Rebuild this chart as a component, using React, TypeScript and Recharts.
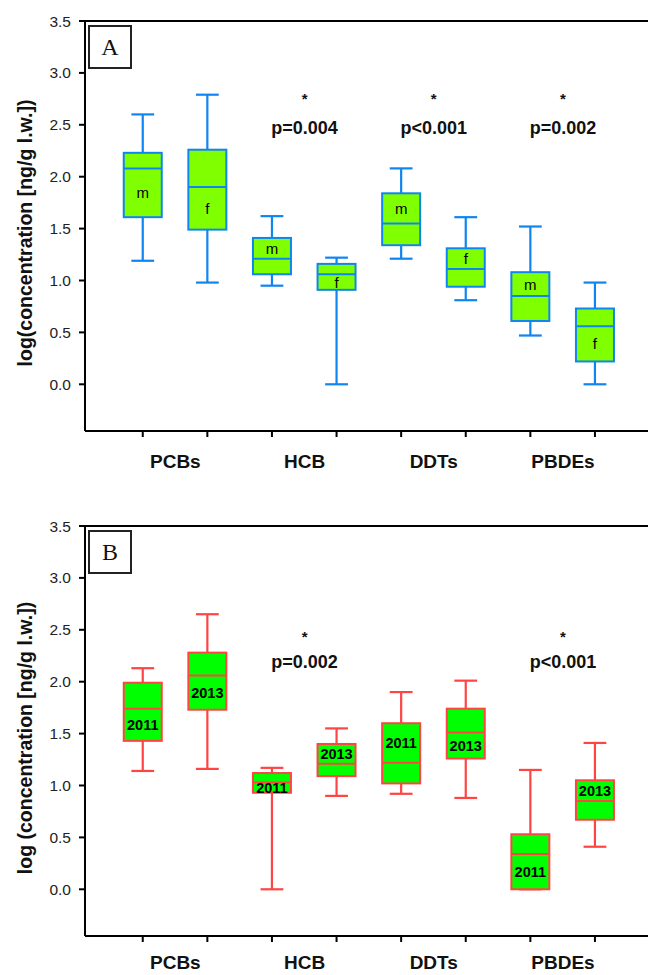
import { Bar, ComposedChart, ReferenceDot, ReferenceLine, XAxis, YAxis } from "recharts";

// shared categories and axis
const groups = ["PCBs", "HCB", "DDTs", "PBDEs"];
const yTicks = [0, 0.5, 1, 1.5, 2, 2.5, 3, 3.5];
const Y_MIN = -0.45;
const Y_MAX = 3.5;

// panel A: males (m) vs females (f)
const maleMin = [1.19, 0.95, 1.21, 0.47];
const maleQ1 = [1.61, 1.06, 1.34, 0.61];
const maleMed = [2.08, 1.21, 1.55, 0.85];
const maleQ3 = [2.23, 1.41, 1.84, 1.08];
const maleMax = [2.6, 1.62, 2.08, 1.52];

const femaleMin = [0.98, 0.0, 0.81, 0.0];
const femaleQ1 = [1.49, 0.91, 0.94, 0.22];
const femaleMed = [1.9, 1.06, 1.11, 0.56];
const femaleQ3 = [2.26, 1.16, 1.31, 0.73];
const femaleMax = [2.79, 1.22, 1.61, 0.98];

const pValuesA = ["", "p=0.004", "p<0.001", "p=0.002"];

// panel B: 2011 vs 2013
const y2011Min = [1.14, 0.0, 0.92, 0.0];
const y2011Q1 = [1.43, 0.93, 1.02, 0.0];
const y2011Med = [1.74, 1.03, 1.22, 0.34];
const y2011Q3 = [1.99, 1.12, 1.6, 0.53];
const y2011Max = [2.13, 1.17, 1.9, 1.15];

const y2013Min = [1.16, 0.9, 0.88, 0.41];
const y2013Q1 = [1.73, 1.09, 1.26, 0.67];
const y2013Med = [2.06, 1.21, 1.51, 0.85];
const y2013Q3 = [2.28, 1.4, 1.74, 1.05];
const y2013Max = [2.65, 1.55, 2.01, 1.41];

const pValuesB = ["", "p=0.002", "", "p<0.001"];

type Stats = [number, number, number, number, number];

type Row = {
  group: string;
  first: [number, number];
  second: [number, number];
  firstStats: Stats;
  secondStats: Stats;
  note: string;
};

function buildRows(a: number[][], b: number[][], notes: string[]): Row[] {
  return groups.map((group, i) => ({
    group,
    first: [a[0][i], a[4][i]],
    second: [b[0][i], b[4][i]],
    firstStats: [a[0][i], a[1][i], a[2][i], a[3][i], a[4][i]],
    secondStats: [b[0][i], b[1][i], b[2][i], b[3][i], b[4][i]],
    note: notes[i]
  }));
}

const rowsA = buildRows(
  [maleMin, maleQ1, maleMed, maleQ3, maleMax],
  [femaleMin, femaleQ1, femaleMed, femaleQ3, femaleMax],
  pValuesA
);
const rowsB = buildRows(
  [y2011Min, y2011Q1, y2011Med, y2011Q3, y2011Max],
  [y2013Min, y2013Q1, y2013Med, y2013Q3, y2013Max],
  pValuesB
);

const FONT = "'Liberation Sans', Arial, sans-serif";
const PLOT_BOTTOM = 431; // top margin + plot height

type BoxProps = {
  x: number;
  y: number;
  width: number;
  height: number;
  stats: Stats;
  stroke: string;
  fill: string;
  text: string;
  bold: boolean;
};

function BoxShape({ x, y, width, height, stats, stroke, fill, text, bold }: BoxProps) {
  const [low, q1, med, q3, high] = stats;
  // the bar spans [low, high]; map any value through the same linear scale
  const pix = (v: number) => y + ((high - v) / (high - low)) * height;
  const cx = x + width / 2;
  const cap = width * 0.3;
  const upper = pix(med) - pix(q3);
  const lower = pix(q1) - pix(med);
  const labelY = upper >= lower * 0.95 ? (pix(q3) + pix(med)) / 2 : (pix(med) + pix(q1)) / 2;
  const base = pix(Y_MIN);
  return (
    <g>
      <line x1={cx} x2={cx} y1={pix(high)} y2={pix(q3)} stroke={stroke} strokeWidth={2.2} />
      <line x1={cx} x2={cx} y1={pix(q1)} y2={pix(low)} stroke={stroke} strokeWidth={2.2} />
      <line x1={cx - cap} x2={cx + cap} y1={pix(high)} y2={pix(high)} stroke={stroke} strokeWidth={2.2} />
      <line x1={cx - cap} x2={cx + cap} y1={pix(low)} y2={pix(low)} stroke={stroke} strokeWidth={2.2} />
      <rect
        x={x}
        y={pix(q3)}
        width={width}
        height={pix(q1) - pix(q3)}
        fill={fill}
        stroke={stroke}
        strokeWidth={2}
      />
      <line x1={x} x2={x + width} y1={pix(med)} y2={pix(med)} stroke={stroke} strokeWidth={2} />
      <text
        x={cx}
        y={labelY}
        textAnchor="middle"
        dominantBaseline="central"
        fontFamily={FONT}
        fontSize={bold ? 14.5 : 15}
        fontWeight={bold ? 700 : 400}
        fill="#000"
      >
        {text}
      </text>
      <line x1={cx} x2={cx} y1={base} y2={base + 6} stroke="#000" strokeWidth={2} />
    </g>
  );
}

function YTitle({ viewBox, text }: { viewBox?: { x: number; y: number; height: number }; text: string }) {
  const vb = viewBox ?? { x: 0, y: 0, height: 0 };
  return (
    <text
      transform={`translate(${vb.x + 25}, ${vb.y + vb.height / 2 + 7}) rotate(-90)`}
      textAnchor="middle"
      dominantBaseline="central"
      fontFamily={FONT}
      fontSize={19.5}
      fontWeight={700}
      fill="#111"
    >
      {text}
    </text>
  );
}

type PanelProps = {
  rows: Row[];
  labels: [string, string];
  stroke: string;
  fill: string;
  bold: boolean;
  yTitle: string;
  letter: string;
  starY: number;
  noteY: number;
  labelGap: number;
  chartHeight: number;
};

function Panel({ rows, labels, stroke, fill, bold, yTitle, letter, starY, noteY, labelGap, chartHeight }: PanelProps) {
  return (
    <div style={{ position: "relative", width: 648, height: chartHeight }}>
      <ComposedChart
        width={648}
        height={chartHeight}
        data={rows}
        margin={{ top: 21, right: 0, bottom: 0, left: 0 }}
        barSize={38}
        barGap={26.6}
      >
        <XAxis
          dataKey="group"
          type="category"
          padding={{ left: 25.75, right: 20.45 }}
          tickLine={false}
          axisLine={{ stroke: "#000", strokeWidth: 2 }}
          tickSize={6}
          tickMargin={labelGap}
          height={chartHeight - PLOT_BOTTOM}
          interval={0}
          tick={{ fontSize: 19, fontWeight: 700, fill: "#111", fontFamily: FONT }}
        />
        <YAxis
          type="number"
          domain={[Y_MIN, Y_MAX]}
          ticks={yTicks}
          tickFormatter={(v) => Number(v).toFixed(1)}
          width={85}
          tickSize={6}
          tickMargin={8}
          axisLine={{ stroke: "#000", strokeWidth: 2 }}
          tickLine={{ stroke: "#000", strokeWidth: 2 }}
          tick={{ fontSize: 15.5, fill: "#222", fontFamily: FONT }}
          label={<YTitle text={yTitle} />}
        />
        <ReferenceLine y={Y_MAX} stroke="#000" strokeWidth={2} />
        <Bar
          dataKey="first"
          isAnimationActive={false}
          shape={(p: any) => (
            <BoxShape {...p} stats={p.payload.firstStats} stroke={stroke} fill={fill} text={labels[0]} bold={bold} />
          )}
        />
        <Bar
          dataKey="second"
          isAnimationActive={false}
          shape={(p: any) => (
            <BoxShape {...p} stats={p.payload.secondStats} stroke={stroke} fill={fill} text={labels[1]} bold={bold} />
          )}
        />
        {rows
          .filter((r) => r.note)
          .map((r) => (
            <ReferenceDot
              key={`star-${r.group}`}
              x={r.group}
              y={starY}
              r={0}
              fill="none"
              stroke="none"
              label={{ value: "*", position: "center", fill: "#111", fontSize: 15, fontWeight: 700, fontFamily: FONT }}
            />
          ))}
        {rows
          .filter((r) => r.note)
          .map((r) => (
            <ReferenceDot
              key={`note-${r.group}`}
              x={r.group}
              y={noteY}
              r={0}
              fill="none"
              stroke="none"
              label={{ value: r.note, position: "center", fill: "#111", fontSize: 18, fontWeight: 700, fontFamily: FONT }}
            />
          ))}
      </ComposedChart>
      <div
        style={{
          position: "absolute",
          left: 88,
          top: 25,
          width: 40,
          height: 40,
          border: "2px solid #222",
          background: "#fff",
          fontFamily: "'Liberation Serif', 'Times New Roman', serif",
          fontSize: 24,
          lineHeight: "40px",
          textAlign: "center",
          color: "#111"
        }}
      >
        {letter}
      </div>
    </div>
  );
}

export default function App() {
  return (
    <div style={{ position: "absolute", left: 0, top: 0, width: 648, height: 975, background: "#fff", overflow: "hidden" }}>
      <div style={{ position: "absolute", left: 0, top: 0 }}>
        <Panel
          rows={rowsA}
          labels={["m", "f"]}
          stroke="#0f85f2"
          fill="#80ff00"
          bold={false}
          yTitle="log(concentration [ng/g l.w.])"
          letter="A"
          starY={2.755}
          noteY={2.47}
          labelGap={18}
          chartHeight={482}
        />
      </div>
      <div style={{ position: "absolute", left: 0, top: 505 }}>
        <Panel
          rows={rowsB}
          labels={["2011", "2013"]}
          stroke="#ff4444"
          fill="#00ff00"
          bold={true}
          yTitle="log (concentration [ng/g l.w.])"
          letter="B"
          starY={2.43}
          noteY={2.19}
          labelGap={14}
          chartHeight={470}
        />
      </div>
    </div>
  );
}
